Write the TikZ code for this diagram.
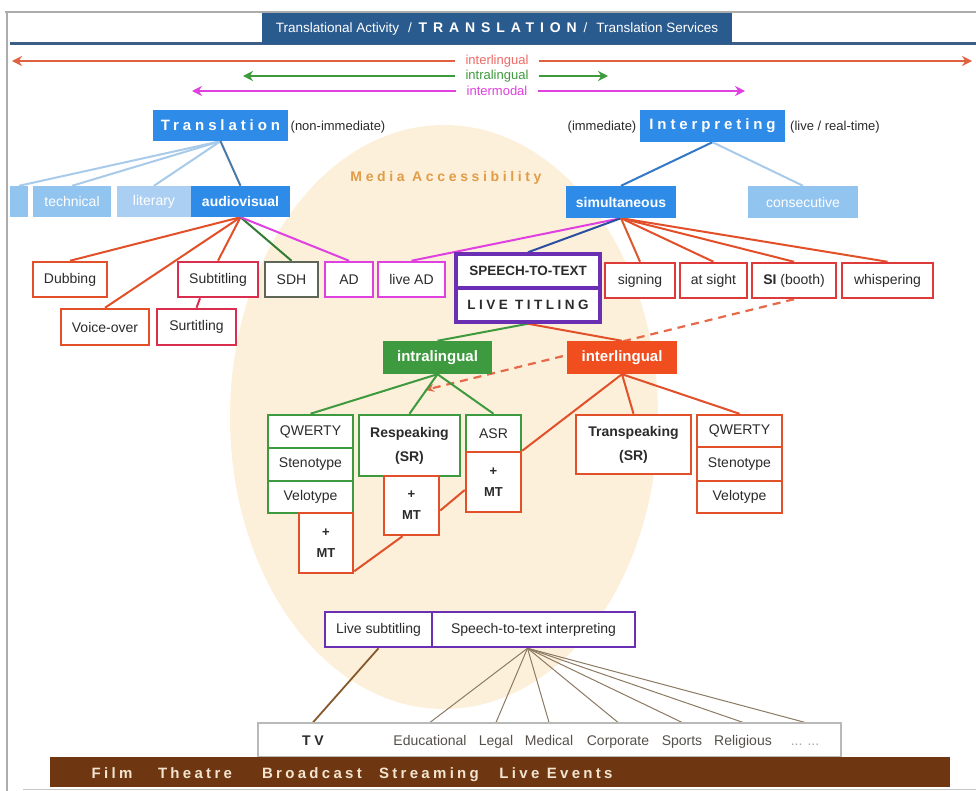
\documentclass[tikz,border=0pt]{standalone}
\usepackage{fontspec}
\setmainfont{Liberation Sans}
\newfontfamily\spA[LetterSpace=42]{Liberation Sans}
\newfontfamily\spB[LetterSpace=26]{Liberation Sans}
\newfontfamily\spC[LetterSpace=22]{Liberation Sans}
\usetikzlibrary{arrows.meta}
\definecolor{peach}{HTML}{FDF0DA}
\definecolor{maorange}{HTML}{E09C48}
\definecolor{bannerblue}{HTML}{2A5B8F}
\definecolor{lineblue}{HTML}{3D5F87}
\definecolor{nodeblue}{HTML}{2E8CE8}
\definecolor{lightblue}{HTML}{92C4F0}
\definecolor{lighterblue}{HTML}{AACFF2}
\definecolor{paleline}{HTML}{A9CBEA}
\definecolor{orangered}{HTML}{E2502A}
\definecolor{crimson}{HTML}{D92E4E}
\definecolor{redbox}{HTML}{DE3A3A}
\definecolor{sdhgray}{HTML}{5E6656}
\definecolor{magent}{HTML}{E040E0}
\definecolor{purp}{HTML}{6B2FB3}
\definecolor{grn}{HTML}{3E9A3E}
\definecolor{intfill}{HTML}{F04E1E}
\definecolor{brownbar}{HTML}{6E3712}
\definecolor{fanline}{HTML}{8C7A62}
\definecolor{txt}{HTML}{2B2B2B}
\definecolor{dom}{HTML}{55504A}
\definecolor{cream}{HTML}{F3E4D0}
\definecolor{interline}{HTML}{E0613F}
\definecolor{interlbl}{HTML}{EE6A66}
\definecolor{stblue}{HTML}{2B4FA0}
\definecolor{avline}{HTML}{4A7AA8}
\definecolor{simline}{HTML}{3478C8}
\pgfdeclarelayer{bg}
\pgfdeclarelayer{lines}
\pgfsetlayers{bg,lines,main}
\newcommand\mkbox[7]{\node[#2, minimum width={(#5-#3)*1pt}, minimum height={(#6-#4)*1pt}] (#1) at ({(#3+#5)/2},{(#4+#6)/2}) {#7};}
\begin{document}
\begin{tikzpicture}[x=1pt,y=-1pt,
  f12/.style={font=\fontsize{13.5}{15}\selectfont},
  f13/.style={font=\fontsize{13}{16}\selectfont},
  f14/.style={font=\fontsize{14}{17}\selectfont},
  linebox/.style={draw=#1, line width=2.5pt, fill=white, text=txt, f14, inner sep=0pt, align=center},
  fillbox/.style={fill=#1, text=white, f14, inner sep=0pt},
  con/.style={draw=#1, line width=2pt},
  arr/.style={line width=2.5pt, -{Stealth[length=10pt,width=10pt]}},
  mtbox/.style={linebox=orangered, font=\fontsize{13}{21}\selectfont\bfseries},
  dlabel/.style={text=dom, f14, inner sep=0pt, anchor=base},
  barlabel/.style={text=cream, font=\spC\bfseries\fontsize{15}{15}\selectfont, inner sep=0pt, anchor=base}]
\useasboundingbox (0,0) rectangle (976,791);
\begin{pgfonlayer}{bg}
\fill[white] (0,0) rectangle (976,791);
\fill[peach] (444,417) ellipse [x radius=214pt, y radius=292pt];
\end{pgfonlayer}
\node[text=maorange, font=\spB\bfseries\fontsize{14}{14}\selectfont] (ma) at (446,178) {Media Accessibility};
% frame
\draw[gray!65, line width=2pt] (5,12) -- (976,12);
\draw[gray!65, line width=2pt] (7,12) -- (7,791);
\draw[gray!45, line width=1.2pt] (23,789.5) -- (976,789.5);
% banner
\draw[lineblue, line width=3pt] (10,44) -- (976,44);
\node[fill=bannerblue, minimum width=470pt, minimum height=31pt, text=white, f12, inner sep=0pt] (banner) at (497,29)
  {Translational Activity\enspace\,/\enspace{\spA\bfseries\fontsize{14}{14}\selectfont TRANSLATION}\enspace/\enspace\,Translation Services};
% top arrows
\node[text=interlbl, f13, inner xsep=10pt, inner ysep=0pt] (linter) at (497,61) {interlingual};
\node[text=grn, f13, inner xsep=10pt, inner ysep=0pt] (lintra) at (497,76) {intralingual};
\node[text=magent, f13, inner xsep=10pt, inner ysep=0pt] (lmodal) at (497,91) {intermodal};
\coordinate (interL) at (12,61); \coordinate (interR) at (972,61);
\coordinate (intraL) at (243,76); \coordinate (intraR) at (608,76);
\coordinate (modalL) at (192,91); \coordinate (modalR) at (745,91);
\draw[arr, interline] (linter.west) -- (interL);
\draw[arr, interline] (linter.east) -- (interR);
\draw[arr, grn] (lintra.west) -- (intraL);
\draw[arr, grn] (lintra.east) -- (intraR);
\draw[arr, magent] (lmodal.west) -- (modalL);
\draw[arr, magent] (lmodal.east) -- (modalR);
% level 1
\mkbox{trans}{fillbox=nodeblue}{153}{110}{288}{141}{{\spB\bfseries\fontsize{15}{15}\selectfont Translation}}
\node[text=txt, f13] (nonimm) at (338,127) {(non-immediate)};
\mkbox{interp}{fillbox=nodeblue}{640}{110}{785}{142}{{\spB\bfseries\fontsize{15}{15}\selectfont Interpreting}}
\node[text=txt, f13] (imm) at (602,127) {(immediate)};
\node[text=txt, f13] (live) at (835,127) {(live / real-time)};
% level 2
\mkbox{partial}{fillbox=lightblue}{10}{186}{28}{217}{}
\mkbox{technical}{fillbox=lightblue}{33}{186}{111}{217}{technical}
\mkbox{literary}{fillbox=lighterblue}{117}{186}{191}{217}{literary}
\mkbox{av}{fillbox=nodeblue}{191}{186}{290}{217}{\bfseries audiovisual}
\mkbox{simul}{fillbox=nodeblue}{566}{186}{676}{218}{\bfseries simultaneous}
\mkbox{consec}{fillbox=lightblue}{748}{186}{858}{218}{consecutive}
% level 3
\mkbox{dub}{linebox=orangered}{33}{262}{107}{297}{Dubbing}
\mkbox{vo}{linebox=orangered}{61}{309}{149}{345}{Voice-over}
\mkbox{sub}{linebox=crimson}{178}{262}{258}{297}{Subtitling}
\mkbox{sur}{linebox=crimson}{157}{309}{236}{345}{Surtitling}
\mkbox{sdh}{linebox=sdhgray}{265}{262}{318}{297}{SDH}
\mkbox{ad}{linebox=magent}{325}{262}{373}{297}{AD}
\mkbox{livead}{linebox=magent}{378}{262}{445}{297}{live AD}
\mkbox{stt}{linebox=purp, line width=3.5pt, font=\bfseries\fontsize{13.5}{14}\selectfont}{456}{254}{600}{288}{SPEECH-TO-TEXT}
\mkbox{lt}{linebox=purp, line width=3.5pt, font=\spB\bfseries\fontsize{13.5}{14}\selectfont}{456}{288}{600}{322}{LIVE TITLING}
\mkbox{sign}{linebox=redbox}{605}{263}{675}{298}{signing}
\mkbox{sight}{linebox=redbox}{680}{263}{747}{298}{at sight}
\mkbox{si}{linebox=redbox}{752}{263}{836}{298}{\textbf{SI} (booth)}
\mkbox{whisp}{linebox=redbox}{842}{263}{933}{298}{whispering}
% level 4
\mkbox{intra}{fillbox=grn, font=\bfseries\fontsize{15}{15}\selectfont}{383}{341}{492}{374}{intralingual}
\mkbox{inter}{fillbox=intfill, font=\bfseries\fontsize{15}{15}\selectfont}{567}{341}{677}{374}{interlingual}
\mkbox{qwa}{linebox=grn}{268}{415}{353}{448}{QWERTY}
\mkbox{sta}{linebox=grn}{268}{448}{353}{481}{Stenotype}
\mkbox{vea}{linebox=grn}{268}{481}{353}{513}{Velotype}
\mkbox{mta}{mtbox}{299}{513}{353}{573}{+\\MT}
\mkbox{resp}{linebox=grn, font=\bfseries\fontsize{14}{24}\selectfont}{359}{415}{460}{476}{Respeaking\\(SR)}
\mkbox{mtb}{mtbox}{384}{476}{439}{535}{+\\MT}
\mkbox{asr}{linebox=grn}{466}{415}{521}{452}{ASR}
\mkbox{mtc}{mtbox}{466}{452}{521}{512}{+\\MT}
\mkbox{transp}{linebox=orangered, font=\bfseries\fontsize{14}{24}\selectfont}{576}{415}{691}{474}{Transpeaking\\(SR)}
\mkbox{qwb}{linebox=orangered}{697}{415}{782}{447}{QWERTY}
\mkbox{stb}{linebox=orangered}{697}{447}{782}{481}{Stenotype}
\mkbox{veb}{linebox=orangered}{697}{481}{782}{513}{Velotype}
% bottom
\mkbox{ls}{linebox=purp}{325}{612}{432}{647}{Live subtitling}
\mkbox{sti}{linebox=purp}{432}{612}{635}{647}{Speech-to-text interpreting}
\mkbox{tvbox}{draw=gray!55, line width=1.2pt, fill=white}{258}{723}{841}{757}{}
\node[text=txt, font=\spB\bfseries\fontsize{14}{14}\selectfont, inner sep=0pt, anchor=base] (tv) at (313,745) {TV};
\node[dlabel] (edu) at (430,745) {Educational};
\node[dlabel] (legal) at (496,745) {Legal};
\node[dlabel] (med) at (549,745) {Medical};
\node[dlabel] (corp) at (618,745) {Corporate};
\node[dlabel] (sports) at (682,745) {Sports};
\node[dlabel] (relig) at (743,745) {Religious};
\node[dlabel, text=gray!70] (dots) at (805,745) {... ...};
\fill[brownbar] (50,757) rectangle (950,787);
\node[barlabel] (film) at (112,778) {Film};
\node[barlabel] (theatre) at (195,778) {Theatre};
\node[barlabel] (broad) at (312,778) {Broadcast};
\node[barlabel] (stream) at (429,778) {Streaming};
\node[barlabel] (liveev) at (556,778) {Live Events};
% connectors
\begin{pgfonlayer}{lines}
\draw[con=paleline] (trans.south) -- (partial.north);
\draw[con=paleline] (trans.south) -- (technical.north);
\draw[con=paleline] (trans.south) -- (literary.north);
\draw[con=avline] (trans.south) -- (av.north);
\draw[con=simline] (interp.south) -- (simul.north);
\draw[con=paleline] (interp.south) -- (consec.north);
\draw[con=orangered] (av.south) -- (dub.north);
\draw[con=orangered] (av.south) -- (vo.north);
\draw[con=orangered] (av.south) -- (sub.north);
\draw[con=grn!80!black] (av.south) -- (sdh.north);
\draw[con=magent] (av.south) -- (ad.north);
\draw[con=crimson] ([xshift=-18pt]sub.south) -- (sur.north);
\draw[con=magent] (simul.south) -- (livead.north);
\draw[con=stblue] (simul.south) -- (stt.north);
\draw[con=orangered!80!brown] (simul.south) -- (sign.north);
\draw[con=orangered] (simul.south) -- (sight.north);
\draw[con=orangered] (simul.south) -- (si.north);
\draw[con=orangered] (simul.south) -- (whisp.north);
\draw[con=grn] (lt.south) -- (intra.north);
\draw[con=orangered] (lt.south) -- (inter.north);
\coordinate (dashend) at (425,390);
\draw[orangered!85!white, line width=2.2pt, dash pattern=on 8pt off 6pt, -{Stealth[length=9pt,width=8pt]}] (si.south) -- (dashend);
\draw[con=grn] (intra.south) -- (qwa.north);
\draw[con=grn] (intra.south) -- (resp.north);
\draw[con=grn] (intra.south) -- (asr.north);
\draw[con=orangered] (inter.south) -- (mtc.north east);
\draw[con=orangered] (inter.south) -- (transp.north);
\draw[con=orangered] (inter.south) -- (qwb.north);
\draw[con=orangered] ([yshift=-8pt]mtc.west) -- ([yshift=-5pt]mtb.east);
\draw[con=orangered] ([xshift=-9pt]mtb.south) -- ([yshift=3pt]mta.south east);
\draw[brown!70!black, line width=1.8pt] (ls.south) -- (tv.north |- tvbox.north);
\foreach \d in {edu,legal,med,corp,sports,relig,dots}
  \draw[fanline, line width=1pt] ([xshift=-6pt]sti.south) -- (\d.north |- tvbox.north);
\end{pgfonlayer}
\end{tikzpicture}
\end{document}
